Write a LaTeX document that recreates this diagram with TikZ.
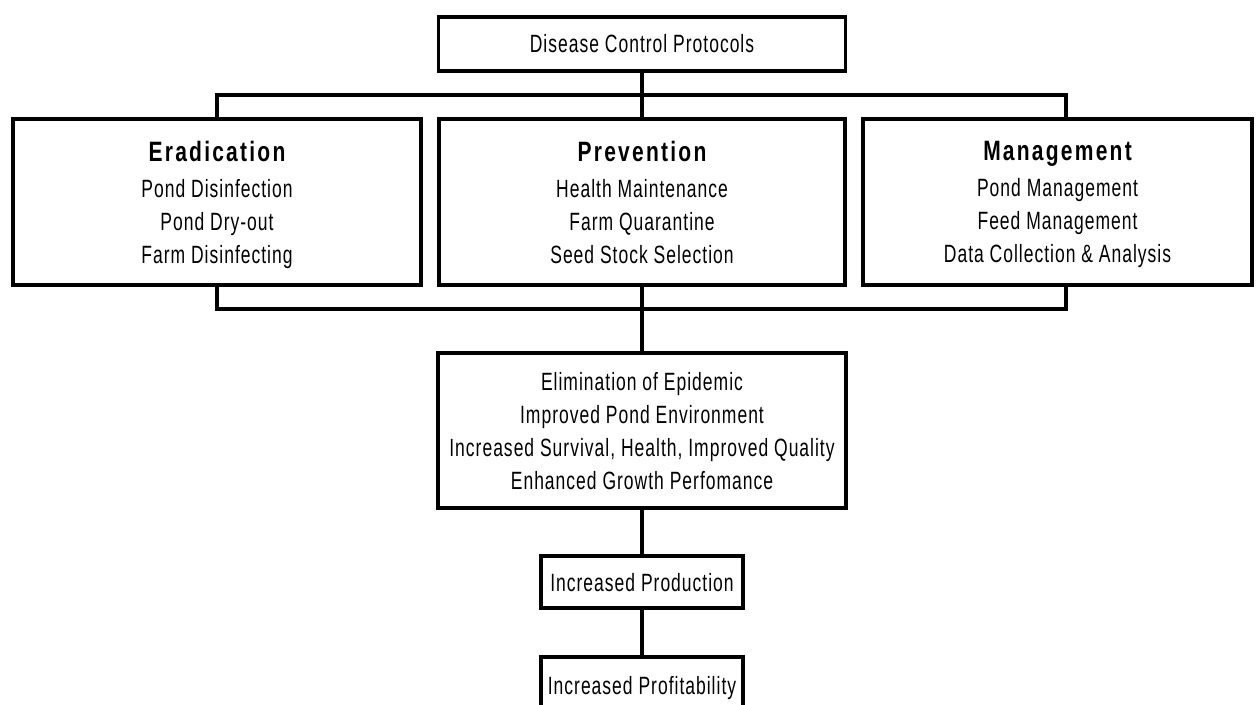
\documentclass[tikz,border=0pt]{standalone}
\usepackage{fontspec}
\setmainfont[FakeStretch=0.7,LetterSpace=4]{Liberation Sans}
\newfontfamily\titlefont[FakeStretch=0.75,LetterSpace=8]{Liberation Sans}
\newcommand{\boxtitle}[1]{{\fontsize{28}{33}\selectfont\titlefont\bfseries #1}}
\begin{document}
\begin{tikzpicture}[x=1pt,y=-1pt,
  box/.style={draw, line width=3.2pt, inner sep=0pt, align=center,
    font=\fontsize{25}{33}\selectfont},
  conn/.style={line width=3.2pt, line join=miter}]
\useasboundingbox (0,0) rectangle (1257,704);
\fill[white] (0,0) rectangle (1257,704);

\node[box, minimum width=407pt, minimum height=54pt] (top) at (642,44) {Disease Control Protocols};

\node[box, minimum width=408pt, minimum height=166pt, text depth=0pt] (left) at (217,202)
  {\boxtitle{Eradication}\\[3pt] Pond Disinfection\\ Pond Dry-out\\ Farm Disinfecting};
\node[box, minimum width=406pt, minimum height=166pt, text depth=0pt] (mid) at (642,202)
  {\boxtitle{Prevention}\\[3pt] Health Maintenance\\ Farm Quarantine\\ Seed Stock Selection};
\node[box, minimum width=389pt, minimum height=166pt, text depth=0pt] (right) at (1057.5,202)
  {\boxtitle{Management}\\[3pt] Pond Management\\ Feed Management\\ Data Collection \& Analysis};

\node[box, minimum width=408pt, minimum height=155pt, text depth=0pt] (res) at (642,430.5)
  {Elimination of Epidemic\\ Improved Pond Environment\\ Increased Survival, Health, Improved Quality\\ Enhanced Growth Perfomance};

\node[box, minimum width=202pt, minimum height=52pt, text depth=0pt] (prod) at (642,582) {Increased Production};
\node[box, minimum width=202pt, minimum height=56pt, text depth=0pt] (prof) at (642,685) {Increased Profitability};

\coordinate (bl) at (217,95);
\coordinate (br) at (1066,95);
\coordinate (cl) at (217,309);
\coordinate (cr) at (1066,309);

\draw[conn] (top.south) -- (top.south |- mid.north);
\draw[conn] (bl |- left.north) -- (bl) -- (br) -- (br |- right.north);
\draw[conn] (cl |- left.south) -- (cl) -- (cr) -- (cr |- right.south);
\draw[conn] (mid.south) -- (res.north);
\draw[conn] (res.south) -- (prod.north);
\draw[conn] (prod.south) -- (prof.north);
\end{tikzpicture}
\end{document}
